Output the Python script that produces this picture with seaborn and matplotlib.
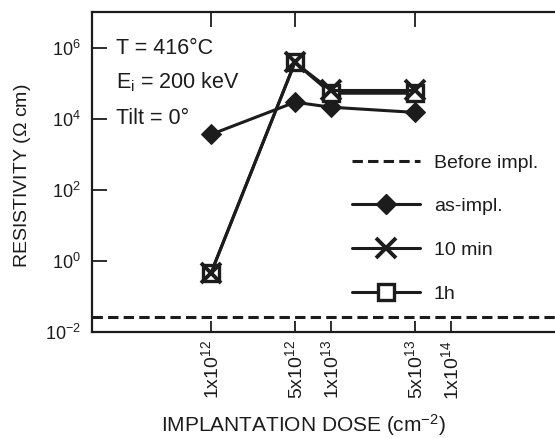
import numpy as np
import pandas as pd
import matplotlib
matplotlib.use("Agg")
import matplotlib.pyplot as plt
import seaborn as sns
from matplotlib.lines import Line2D

# ---- data ----
dose = [1e12, 5e12, 1e13, 5e13]
as_impl = [3.6e3, 2.9e4, 2.1e4, 1.5e4]
ten_min = [0.46, 3.8e5, 6.2e4, 6.2e4]
one_h = [0.46, 3.8e5, 5.2e4, 5.2e4]
before_impl = 2.6e-2

x_ticks = [1e12, 5e12, 1e13, 5e13, 1e14]
x_ticklabels = ["1x10$^{12}$", "5x10$^{12}$", "1x10$^{13}$", "5x10$^{13}$", "1x10$^{14}$"]
top_ticks = [1e12, 5e12, 5e13]
y_ticks = [1e-2, 1e0, 1e2, 1e4, 1e6]
y_ticklabels = ["10$^{-2}$", "10$^{0}$", "10$^{2}$", "10$^{4}$", "10$^{6}$"]

sns.set_theme(style="ticks")
plt.rcParams["font.family"] = ["Liberation Sans", "DejaVu Sans"]
plt.rcParams["mathtext.fontset"] = "custom"
plt.rcParams["mathtext.rm"] = "Liberation Sans"
plt.rcParams["mathtext.it"] = "Liberation Sans:italic"
plt.rcParams["mathtext.default"] = "regular"

ink = "#1c1c1c"

fig = plt.figure(figsize=(5.55, 4.38), dpi=100)
ax = fig.add_axes([92 / 555, 1 - 332 / 438, (557 - 92) / 555, (332 - 12) / 438])

df = pd.DataFrame({
    "dose": dose * 3,
    "res": as_impl + ten_min + one_h,
    "series": ["as-impl."] * 4 + ["10 min"] * 4 + ["1h"] * 4,
})

sns.lineplot(data=df[df.series == "as-impl."], x="dose", y="res", ax=ax,
             color=ink, lw=2.2, marker="D", markersize=10.5, mec=ink, mfc=ink)
sns.lineplot(data=df[df.series == "1h"], x="dose", y="res", ax=ax,
             color=ink, lw=2.2, marker="s", markersize=11, mec=ink, mfc="white",
             mew=2.4)
sns.lineplot(data=df[df.series == "10 min"], x="dose", y="res", ax=ax,
             color=ink, lw=2.2, marker="x", markersize=15, mec=ink, mew=2.8)
ax.axhline(before_impl, color=ink, lw=2.2, ls=(0, (3.4, 1.7)))

ax.set_xscale("log")
ax.set_yscale("log")
ax.set_xlim(10 ** 11.008, 10 ** 14.883)
ax.set_ylim(1e-2, 1e7)

ax.set_xticks(x_ticks)
ax.set_xticklabels(x_ticklabels, rotation=90, fontsize=14)
ax.xaxis.set_minor_locator(matplotlib.ticker.NullLocator())
ax.yaxis.set_minor_locator(matplotlib.ticker.NullLocator())
ax.set_yticks(y_ticks)
ax.set_yticklabels(y_ticklabels, fontsize=13)
ax.tick_params(axis="x", direction="in", length=8, width=1.3, color=ink,
               labelcolor=ink, pad=6)
ax.tick_params(axis="y", direction="in", length=11, width=1.3, color=ink,
               labelcolor=ink, pad=8)

ax.set_xlabel("IMPLANTATION DOSE (cm$^{-2}$)", fontsize=15, color=ink)
ax.xaxis.set_label_coords((303 - 92) / (557 - 92), -(425 - 332) / 320, transform=ax.transAxes)
ax.xaxis.label.set_va("center")
ax.set_ylabel("RESISTIVITY ($\\Omega$ cm)", fontsize=14, color=ink)
ax.yaxis.set_label_coords(-(92 - 23) / (557 - 92), (332 - 176) / 320, transform=ax.transAxes)
ax.yaxis.label.set_va("center")
for s in ax.spines.values():
    s.set_color(ink)
    s.set_linewidth(1.6)

axt = ax.twiny()
axt.set_xscale("log")
axt.set_xlim(ax.get_xlim())
axt.set_xticks(top_ticks)
axt.set_xticklabels([])
axt.xaxis.set_minor_locator(matplotlib.ticker.NullLocator())
axt.tick_params(axis="x", direction="in", length=11, width=1.3, color=ink)
for s in axt.spines.values():
    s.set_visible(False)

# annotations
ann_fs = 15.5
ax.text(116 / 555, 1 - 48 / 438, "T = 416°C", transform=fig.transFigure,
        fontsize=ann_fs, color=ink, va="center")
ax.text(116 / 555, 1 - 82 / 438, "E$_{i}$ = 200 keV", transform=fig.transFigure,
        fontsize=ann_fs, color=ink, va="center")
ax.text(116 / 555, 1 - 118 / 438, "Tilt = 0°", transform=fig.transFigure,
        fontsize=ann_fs, color=ink, va="center")

handles = [
    Line2D([], [], color=ink, lw=2.2, ls=(0, (3.4, 1.7))),
    Line2D([], [], color=ink, lw=2.2, marker="D", markersize=10.5, mfc=ink, mec=ink),
    Line2D([], [], color=ink, lw=2.2, marker="x", markersize=15, mew=2.8, mec=ink),
    Line2D([], [], color=ink, lw=2.2, marker="s", markersize=11, mfc="white",
           mec=ink, mew=2.4),
]
labels = ["Before impl.", "as-impl.", "10 min", "1h"]
fig.legend(handles, labels, loc="upper left",
           bbox_to_anchor=(352 / 555, 1 - 154 / 438), frameon=False,
           fontsize=14, handlelength=3.5, handletextpad=0.7, labelspacing=1.34,
           borderpad=0, borderaxespad=0, labelcolor=ink)

fig.savefig("out.png", dpi=100)
